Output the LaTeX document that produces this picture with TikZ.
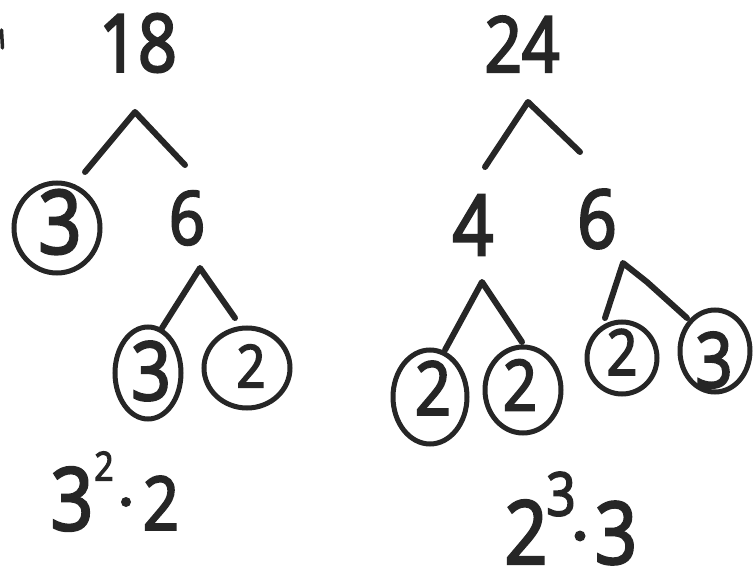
\documentclass[tikz,border=0pt]{standalone}
\usepackage{fontspec}
\setmainfont{Open Sans}[FakeStretch=0.85, FakeBold=3]
\usetikzlibrary{shapes.geometric}
\definecolor{ink}{HTML}{262626}
\tikzset{
  dig/.style={font=\fontsize{#1}{#1}\selectfont, inner sep=0pt, text=ink},
  ring/.style={ellipse, draw=ink, line width=5pt, inner sep=0pt},
  branch/.style={draw=ink, line width=6pt, line cap=round, line join=round},
}
\begin{document}
\begin{tikzpicture}[x=1pt, y=-1pt]
\fill[white] (0,0) rectangle (753,580);
\useasboundingbox (0,0) rectangle (753,580);

% ---------- 18 tree ----------
\node[dig=80] (n18) at (138,43) {18};
\coordinate (a18) at (135,112);
\coordinate (l18) at (85,172);
\coordinate (r18) at (185,165);
\draw[branch] (l18) -- (a18) -- (r18);

\node[ring, minimum width=86pt, minimum height=90pt] (r3a) at (57,228) {};
\node[dig=88] (c3a) at (60,222) {3};
\node[dig=74] (n6a) at (187,218) {6};

\coordinate (a6a) at (200,268);
\coordinate (l6a) at (162,328);
\coordinate (r6a) at (235,318);
\draw[branch] (l6a) -- (a6a) -- (r6a);

\node[ring, minimum width=66pt, minimum height=92pt] (r3b) at (148,373) {};
\node[dig=81] (c3b) at (151,371) {3};
\node[ring, minimum width=86pt, minimum height=80pt] (r2b) at (247,368) {};
\node[dig=59] (c2b) at (251,366) {2};

% 3^2 . 2
\node[dig=87] (e1a) at (72,499) {3};
\node[dig=40] (e1s) at (104,466) {2};
\node[circle, fill=ink, inner sep=0pt, minimum size=10pt] (e1d) at (126,502) {};
\node[dig=74] (e1b) at (161,503) {2};

% ---------- 24 tree ----------
\node[dig=77] (n24) at (522,44) {24};
\coordinate (a24) at (528,102);
\coordinate (l24) at (485,167);
\coordinate (r24) at (580,152);
\draw[branch] (l24) -- (a24) -- (r24);

\node[dig=84] (n4) at (473,225) {4};
\node[dig=81] (n6b) at (597,219) {6};

\coordinate (a4) at (482,282);
\coordinate (l4) at (445,350);
\coordinate (r4) at (522,342);
\draw[branch] (l4) -- (a4) -- (r4);

\coordinate (a6b) at (623,263);
\coordinate (l6b) at (605,318);
\coordinate (m6b) at (647,282);
\coordinate (r6b) at (687,318);
\draw[branch] (l6b) -- (a6b) -- (m6b) -- (r6b);

\node[ring, minimum width=74pt, minimum height=94pt] (r2c) at (430,397) {};
\node[dig=74] (c2c) at (433,388) {2};
\node[ring, minimum width=76pt, minimum height=86pt] (r2d) at (523,390) {};
\node[dig=70] (c2d) at (520,385) {2};
\node[ring, minimum width=70pt, minimum height=72pt] (r2e) at (622,358) {};
\node[dig=63] (c2e) at (622,352) {2};
\node[ring, minimum width=70pt, minimum height=82pt] (r3e) at (715,351) {};
\node[dig=76] (c3e) at (714,360) {3};

% 2^3 . 3
\node[dig=88] (e2a) at (526,532) {2};
\node[dig=60] (e2s) at (561,494) {3};
\node[circle, fill=ink, inner sep=0pt, minimum size=11pt] (e2d) at (580,536) {};
\node[dig=86] (e2b) at (616,533) {3};

% stray mark at the left edge
\coordinate (s1) at (1.5,30);
\coordinate (s2) at (2.5,48);
\draw[branch, line width=3.5pt] (s1) -- (s2);
\end{tikzpicture}
\end{document}
